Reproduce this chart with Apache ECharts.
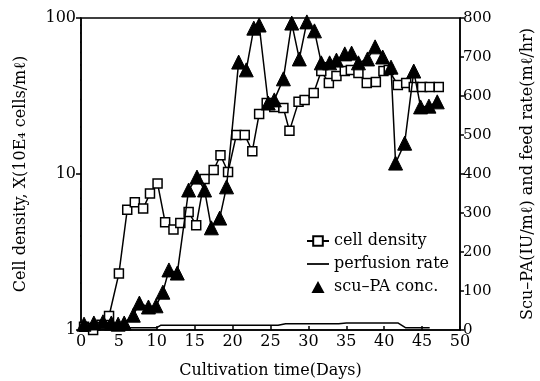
<!DOCTYPE html>
<html>
<head>
<meta charset="utf-8">
<script src="https://cdn.jsdelivr.net/npm/echarts@6/dist/echarts.min.js"></script>
<style>
html,body{margin:0;padding:0;background:#fff;}
#chart{width:540px;height:381px;}
</style>
</head>
<body>
<div id="chart"></div>
<script>
// ---- data ----
const cellDays = [0.4, 1.6, 2.7, 3.7, 5.0, 6.1, 7.1, 8.2, 9.1, 10.1, 11.1, 12.2, 13.1, 14.2, 15.2, 16.3, 17.5, 18.4, 19.4, 20.5, 21.6, 22.6, 23.5, 24.5, 25.5, 26.7, 27.5, 28.7, 29.5, 30.7, 31.7, 32.7, 33.7, 34.8, 35.6, 36.6, 37.7, 38.9, 39.9, 40.6, 41.8, 42.9, 43.9, 45.0, 46.0, 47.2];
const cellDensity = [1.05, 1.0, 1.08, 1.23, 2.3, 5.9, 6.6, 6.0, 7.5, 8.7, 4.9, 4.4, 4.85, 5.7, 4.7, 9.3, 10.6, 13.2, 10.3, 17.8, 17.8, 14.0, 24.2, 28.5, 26.9, 26.5, 18.9, 29.0, 29.8, 33.0, 45.7, 38.3, 42.5, 45.7, 46.4, 44.4, 38.3, 38.9, 45.7, 46.4, 37.2, 38.3, 36.1, 36.1, 36.1, 36.1];

const scuDays = [0.4, 1.7, 2.9, 4.0, 4.9, 5.7, 6.9, 7.7, 8.9, 9.9, 10.8, 11.6, 12.7, 14.2, 15.3, 16.3, 17.2, 18.3, 19.2, 20.8, 21.8, 22.8, 23.5, 24.7, 25.5, 26.7, 27.8, 28.8, 29.8, 30.8, 31.7, 32.8, 33.7, 34.8, 35.7, 36.6, 37.8, 38.8, 39.8, 40.9, 41.5, 42.7, 43.9, 44.8, 45.9, 47.0];
const scuPA = [15, 18, 21, 18, 15, 18, 38, 69, 59, 62, 97, 154, 146, 359, 392, 359, 262, 287, 367, 687, 667, 774, 782, 582, 590, 644, 787, 695, 790, 767, 685, 685, 692, 708, 710, 685, 695, 726, 700, 674, 428, 479, 664, 572, 574, 585];

const perfDays = [4, 10, 10.5, 26, 27, 34, 35, 41.8, 42.8, 46];
const perfusion = [6, 6, 12, 12, 16, 16, 18, 18, 6, 6];

const logMinorValues = [2, 3, 4, 5, 6, 7, 8, 9, 20, 30, 40, 50, 60, 70, 80, 90];
const minorTickDays = 0.66; // tick length expressed in x-axis units

const xTicks = {min: 0, max: 50, interval: 5};
const rightTicks = {min: 0, max: 800, interval: 100};

const serif = 'DejaVu Serif';
const zip = (a, b) => a.map((v, i) => [v, b[i]]);

// minor tick segments for the log axis, separated by gaps
const minorTickData = [];
logMinorValues.forEach(v => {
  minorTickData.push([xTicks.min - minorTickDays, v]);
  minorTickData.push([xTicks.min, v]);
  minorTickData.push([xTicks.min, '-']);
});

const chart = echarts.init(document.getElementById('chart'), null, {renderer: 'canvas'});
chart.setOption({
  animation: false,
  backgroundColor: '#fff',
  grid: {left: 81, right: 80, top: 18, bottom: 51, outerBoundsMode: 'none', containLabel: false,
         show: true, borderColor: '#000', borderWidth: 1.5, backgroundColor: 'transparent'},
  legend: {
    orient: 'vertical', left: 301, top: 228, itemGap: 7, itemWidth: 22, itemHeight: 12,
    symbolKeepAspect: true,
    textStyle: {fontFamily: serif, fontSize: 16, color: '#000'},
    data: [
      {name: 'cell density'},
      {name: 'perfusion rate', icon: 'path://M0,0h20v1.6h-20z', itemStyle: {color: '#000'}},
      {name: 'scu–PA conc.', icon: 'path://M6,0L12,11L0,11Z', itemStyle: {color: '#000'}}
    ]
  },
  xAxis: {
    type: 'value', min: xTicks.min, max: xTicks.max, interval: xTicks.interval,
    name: 'Cultivation time(Days)', nameLocation: 'middle', nameGap: 33,
    nameTextStyle: {fontFamily: serif, fontSize: 16, color: '#000'},
    axisLine: {lineStyle: {color: '#000', width: 1.5}},
    axisTick: {inside: true, length: 4, lineStyle: {color: '#000', width: 1.5}},
    axisLabel: {fontFamily: serif, fontSize: 16, color: '#000', margin: 4},
    splitLine: {show: false}
  },
  yAxis: [
    {
      type: 'log', logBase: 10, min: 1, max: 100, position: 'left',
      name: 'Cell density, X(10E₄ cells/mℓ)', nameLocation: 'middle', nameRotate: 90, nameGap: 52,
      nameTextStyle: {fontFamily: serif, fontSize: 16, color: '#000'},
      axisLine: {show: true, lineStyle: {color: '#000', width: 1.5}},
      axisTick: {show: true, length: 5, lineStyle: {color: '#000', width: 1.5}},
      axisLabel: {fontFamily: serif, fontSize: 16, color: '#000', margin: 5},
      splitLine: {show: false}
    },
    {
      type: 'value', min: rightTicks.min, max: rightTicks.max, interval: rightTicks.interval, position: 'right',
      name: 'Scu–PA(IU/mℓ) and feed rate(mℓ/hr)', nameLocation: 'middle', nameRotate: 90, nameGap: 60,
      nameTextStyle: {fontFamily: serif, fontSize: 16, color: '#000'},
      axisLine: {show: true, lineStyle: {color: '#000', width: 1.5}},
      axisTick: {length: 4, lineStyle: {color: '#000', width: 1.5}},
      axisLabel: {fontFamily: serif, fontSize: 15, color: '#000', margin: 3},
      splitLine: {show: false}
    }
  ],
  series: [
    {
      name: 'cell density', type: 'line', yAxisIndex: 0,
      symbol: 'rect', symbolSize: 9, showAllSymbol: true,
      lineStyle: {color: '#000', width: 1.5},
      itemStyle: {color: '#fff', borderColor: '#000', borderWidth: 1.5},
      data: zip(cellDays, cellDensity), z: 3
    },
    {
      name: 'perfusion rate', type: 'line', yAxisIndex: 1,
      symbol: 'none',
      lineStyle: {color: '#000', width: 1.5},
      itemStyle: {color: '#000'},
      data: zip(perfDays, perfusion), z: 2
    },
    {
      name: 'scu–PA conc.', type: 'line', yAxisIndex: 1,
      symbol: 'triangle', symbolSize: 14, showAllSymbol: true,
      lineStyle: {color: '#000', width: 1.5},
      itemStyle: {color: '#000', borderColor: '#000'},
      data: zip(scuDays, scuPA), z: 4
    },
    {
      name: 'log minor ticks', type: 'line', yAxisIndex: 0,
      symbol: 'none', clip: false, silent: true, connectNulls: false,
      lineStyle: {color: '#000', width: 1.5},
      data: minorTickData, z: 5
    }
  ]
});
</script>
</body>
</html>
